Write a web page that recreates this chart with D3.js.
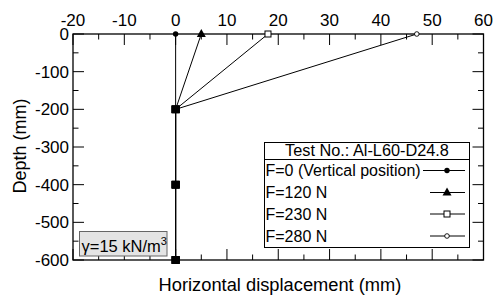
<!DOCTYPE html>
<html>
<head>
<meta charset="utf-8">
<script src="https://cdn.jsdelivr.net/npm/d3@7"></script>
<style>
  body { margin: 0; background: #fff; }
  svg { display: block; font-family: Arial, "Liberation Sans", sans-serif; }
</style>
</head>
<body>
<div id="chart"></div>
<script>
// data
const depths = [0, -200, -400, -600];
const dispF0 = [0, 0, 0, 0];
const dispF120 = [5, 0, 0, 0];
const dispF230 = [18, 0, 0, 0];
const dispF280 = [47, 0, 0, 0];
const seriesNames = ["F=0 (Vertical position)", "F=120 N", "F=230 N", "F=280 N"];
const seriesSymbols = ["dot", "triangle", "square", "circle"];
const xTicks = [-20, -10, 0, 10, 20, 30, 40, 50, 60];
const yTicks = [0, -100, -200, -300, -400, -500, -600];
const testLabel = "Test No.: Al-L60-D24.8";

const width = 497, height = 297;
const x = d3.scaleLinear().domain([-20, 60]).range([73, 483.5]);
const y = d3.scaleLinear().domain([0, -600]).range([34, 260]);

const svg = d3.select("#chart").append("svg")
  .attr("width", width).attr("height", height);

const majLen = 11, minLen = 5.5;

// axes: ticks inward on all four sides
const axisG = svg.append("g").attr("stroke", "#000").attr("stroke-width", 1);
const xMinor = d3.range(-20, 60.1, 5);
const yMinor = d3.range(0, -600.1, -50);

xMinor.forEach(v => {
  const len = v % 10 === 0 ? majLen : minLen;
  axisG.append("line").attr("x1", x(v)).attr("x2", x(v)).attr("y1", y(0)).attr("y2", y(0) + len);
  axisG.append("line").attr("x1", x(v)).attr("x2", x(v)).attr("y1", y(-600)).attr("y2", y(-600) - len);
});
yMinor.forEach(v => {
  const len = v % 100 === 0 ? majLen : minLen;
  axisG.append("line").attr("x1", x(-20)).attr("x2", x(-20) + len).attr("y1", y(v)).attr("y2", y(v));
  axisG.append("line").attr("x1", x(60)).attr("x2", x(60) - len).attr("y1", y(v)).attr("y2", y(v));
});
svg.append("rect")
  .attr("x", x(-20)).attr("y", y(0))
  .attr("width", x(60) - x(-20)).attr("height", y(-600) - y(0))
  .attr("fill", "none").attr("stroke", "#000").attr("stroke-width", 1.3);

svg.append("g").selectAll("text").data(xTicks).join("text")
  .attr("x", d => x(d)).attr("y", 26)
  .attr("text-anchor", "middle").attr("font-size", 17)
  .text(d => d);

svg.append("g").selectAll("text").data(yTicks).join("text")
  .attr("x", 69).attr("y", d => y(d) + 6)
  .attr("text-anchor", "end").attr("font-size", 17)
  .text(d => d);

svg.append("text")
  .attr("x", 280).attr("y", 291)
  .attr("text-anchor", "middle").attr("font-size", 18.3)
  .text("Horizontal displacement (mm)");

svg.append("text")
  .attr("transform", "translate(26,146) rotate(-90)")
  .attr("text-anchor", "middle").attr("font-size", 18)
  .text("Depth (mm)");

// series
const allDisp = [dispF0, dispF120, dispF230, dispF280];
const series = allDisp.map((vals, i) => ({
  name: seriesNames[i],
  symbol: seriesSymbols[i],
  points: vals.map((v, j) => ({ x: v, y: depths[j] }))
}));

const line = d3.line().x(d => x(d.x)).y(d => y(d.y));
const plotG = svg.append("g");

series.forEach(s => {
  plotG.append("path").datum(s.points)
    .attr("d", line).attr("fill", "none")
    .attr("stroke", "#000").attr("stroke-width", 1);
});

function drawSymbol(g, type, cx, cy) {
  if (type === "dot") {
    g.append("circle").attr("cx", cx).attr("cy", cy).attr("r", 2.7).attr("fill", "#000");
  } else if (type === "triangle") {
    g.append("path")
      .attr("d", `M${cx},${cy - 5}L${cx + 4.5},${cy + 3}L${cx - 4.5},${cy + 3}Z`)
      .attr("fill", "#000");
  } else if (type === "square") {
    g.append("rect").attr("x", cx - 3).attr("y", cy - 3).attr("width", 6).attr("height", 6)
      .attr("fill", "#fff").attr("stroke", "#000").attr("stroke-width", 1);
  } else if (type === "circle") {
    g.append("circle").attr("cx", cx).attr("cy", cy).attr("r", 2.3)
      .attr("fill", "#fff").attr("stroke", "#000").attr("stroke-width", 0.9);
  } else if (type === "block") {
    g.append("rect").attr("x", cx - 4).attr("y", cy - 3.8).attr("width", 8).attr("height", 7.6)
      .attr("fill", "#000");
  }
}

// shared points below the surface show as solid blocks, top points keep their symbol
series.forEach(s => {
  s.points.forEach((p, j) => {
    drawSymbol(plotG, j === 0 ? s.symbol : "block", x(p.x), y(p.y));
  });
});

// gamma box
const gBox = svg.append("g");
gBox.append("rect")
  .attr("x", 79.5).attr("y", 231.5).attr("width", 87.5).attr("height", 24.5)
  .attr("fill", "#e4e4e4").attr("stroke", "#666").attr("stroke-width", 1);
const gText = gBox.append("text").attr("x", 81.5).attr("y", 251.5).attr("font-size", 16.5);
gText.append("tspan").text("γ=15 kN/m");
gText.append("tspan").attr("dy", -7).attr("font-size", 11).text("3");

// legend
const leg = svg.append("g");
leg.append("rect")
  .attr("x", 264.5).attr("y", 142.5).attr("width", 205).attr("height", 105)
  .attr("fill", "#fff").attr("stroke", "#000").attr("stroke-width", 1);
leg.append("line")
  .attr("x1", 264.5).attr("x2", 469.5).attr("y1", 159.5).attr("y2", 159.5)
  .attr("stroke", "#000").attr("stroke-width", 1);
leg.append("text")
  .attr("x", 367).attr("y", 156).attr("text-anchor", "middle").attr("font-size", 16.3)
  .text(testLabel);

const rowY = [176, 198, 219.5, 241.5];
series.forEach((s, i) => {
  const cy = rowY[i] - 5.5;
  leg.append("text").attr("x", 265.5).attr("y", rowY[i]).attr("font-size", 16).text(s.name);
  leg.append("line")
    .attr("x1", i === 0 ? 423 : 430).attr("x2", 465)
    .attr("y1", cy).attr("y2", cy)
    .attr("stroke", "#000").attr("stroke-width", 1);
  drawSymbol(leg, s.symbol, 447, cy);
});
</script>
</body>
</html>
